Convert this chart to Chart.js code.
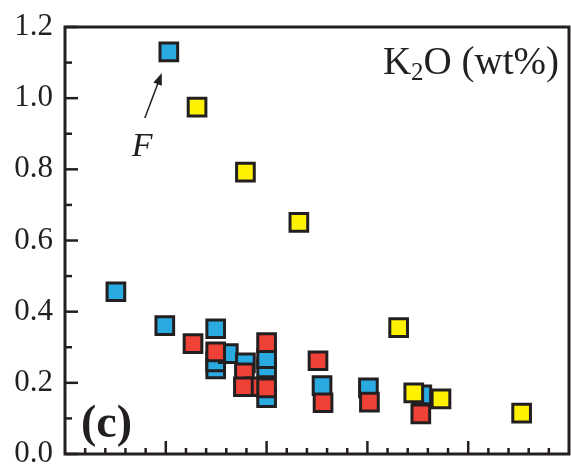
<!DOCTYPE html>
<html>
<head>
<meta charset="utf-8">
<script src="https://cdn.jsdelivr.net/npm/chart.js@4.4.1/dist/chart.umd.min.js"></script>
<style>
    html, body { margin: 0; padding: 0; background: #fff; overflow: hidden; }
    canvas { display: block; }
</style>
</head>
<body>
<canvas id="k2o" width="571" height="464"></canvas>
<script>
// K2O (wt%) values per sample group
const blueX = [10.3, 5.05, 9.9, 14.95, 14.95, 14.95, 16.2, 17.9, 20.0, 20.0, 20.0, 25.5, 30.1, 35.4];
const blueY = [1.13, 0.456, 0.361, 0.352, 0.239, 0.259, 0.282, 0.256, 0.242, 0.268, 0.158, 0.192, 0.186, 0.166];

const redX = [12.7, 14.95, 17.8, 18.8, 17.7, 20.0, 20.0, 25.1, 25.6, 30.2, 35.3];
const redY = [0.31, 0.287, 0.228, 0.189, 0.189, 0.313, 0.186, 0.262, 0.144, 0.146, 0.113];

const yellowX = [13.1, 17.9, 23.2, 33.1, 34.6, 37.3, 45.3];
const yellowY = [0.975, 0.792, 0.651, 0.355, 0.172, 0.155, 0.115];

const yTicks = [0, 0.2, 0.4, 0.6, 0.8, 1.0, 1.2];
const yMinor = [0.1, 0.3, 0.5, 0.7, 0.9, 1.1];
const xMajor = [10, 20, 30, 40];
const xMinor = [2, 4, 6, 8, 12, 14, 16, 18, 22, 24, 26, 28, 32, 34, 36, 38, 42, 44, 46, 48];

const INK = '#231f20';
const SERIF = '"Liberation Serif", "Times New Roman", serif';

function toPoints(xs, ys) {
    return xs.map(function(x, i) { return { x: x, y: ys[i] }; });
}

function makeSet(label, xs, ys, color, order) {
    return {
        label: label,
        data: toPoints(xs, ys),
        backgroundColor: color,
        borderColor: INK,
        borderWidth: 3,
        pointStyle: 'rect',
        pointRadius: 12.5,
        pointHoverRadius: 12.5,
        order: order
    };
}

// frame and inward tick marks
const framePlugin = {
    id: 'frame',
    beforeDatasetsDraw: function(chart) {
        const ctx = chart.ctx;
        const a = chart.chartArea;
        const xs = chart.scales.x;
        const ys = chart.scales.y;
        ctx.save();
        ctx.strokeStyle = INK;
        ctx.lineWidth = 2.5;
        yTicks.forEach(function(v) {
            const py = ys.getPixelForValue(v);
            ctx.beginPath(); ctx.moveTo(a.left, py); ctx.lineTo(a.left + 13, py); ctx.stroke();
        });
        yMinor.forEach(function(v) {
            const py = ys.getPixelForValue(v);
            ctx.beginPath(); ctx.moveTo(a.left, py); ctx.lineTo(a.left + 7, py); ctx.stroke();
        });
        xMajor.forEach(function(v) {
            const px = xs.getPixelForValue(v);
            ctx.beginPath(); ctx.moveTo(px, a.bottom); ctx.lineTo(px, a.bottom - 13); ctx.stroke();
        });
        xMinor.forEach(function(v) {
            const px = xs.getPixelForValue(v);
            ctx.beginPath(); ctx.moveTo(px, a.bottom); ctx.lineTo(px, a.bottom - 6); ctx.stroke();
        });
        ctx.lineWidth = 3;
        ctx.strokeRect(a.left, a.top, a.right - a.left, a.bottom - a.top);
        ctx.restore();
    },
    afterDraw: function(chart) {
        const ctx = chart.ctx;
        const a = chart.chartArea;
        ctx.save();
        ctx.fillStyle = INK;
        ctx.strokeStyle = INK;
        ctx.textBaseline = 'alphabetic';

        // K2O (wt%) title, right aligned
        const big = '39px ' + SERIF;
        const sub = '25px ' + SERIF;
        ctx.font = big;
        const wK = ctx.measureText('K').width;
        const wRest = ctx.measureText('O (wt%)').width;
        ctx.font = sub;
        const w2 = ctx.measureText('2').width;
        let tx = a.right - 10 - (wK + w2 + wRest);
        const ty = a.top + 47;
        ctx.font = big;
        ctx.fillText('K', tx, ty);
        tx += wK;
        ctx.font = sub;
        ctx.fillText('2', tx, ty + 6);
        tx += w2;
        ctx.font = big;
        ctx.fillText('O (wt%)', tx, ty);

        // panel letter
        ctx.font = 'bold 46px ' + SERIF;
        ctx.fillText('(c)', a.left + 16, a.bottom - 17);

        // F label with arrow pointing at the outlier
        const px = chart.scales.x.getPixelForValue(blueX[0]);
        const py = chart.scales.y.getPixelForValue(blueY[0]);
        ctx.font = 'italic 34px ' + SERIF;
        ctx.fillText('F', px - 37, py + 104);

        const x0 = px - 24, y0 = py + 66;
        const x1 = px - 7, y1 = py + 21;
        const ang = Math.atan2(y1 - y0, x1 - x0);
        ctx.lineWidth = 1.5;
        ctx.beginPath(); ctx.moveTo(x0, y0); ctx.lineTo(x1 - 8 * Math.cos(ang), y1 - 8 * Math.sin(ang)); ctx.stroke();
        ctx.beginPath();
        ctx.moveTo(x1, y1);
        ctx.lineTo(x1 - 12 * Math.cos(ang) + 4.5 * Math.sin(ang), y1 - 12 * Math.sin(ang) - 4.5 * Math.cos(ang));
        ctx.lineTo(x1 - 12 * Math.cos(ang) - 4.5 * Math.sin(ang), y1 - 12 * Math.sin(ang) + 4.5 * Math.cos(ang));
        ctx.closePath();
        ctx.fill();
        ctx.restore();
    }
};

new Chart(document.getElementById('k2o'), {
    type: 'scatter',
    data: {
        datasets: [
            makeSet('group 1', blueX, blueY, '#29abe2', 3),
            makeSet('group 2', redX, redY, '#ef4136', 2),
            makeSet('group 3', yellowX, yellowY, '#fff200', 1)
        ]
    },
    options: {
        responsive: false,
        animation: false,
        events: [],
        layout: { autoPadding: false, padding: { top: 27, right: 2, bottom: 10, left: 0 } },
        plugins: {
            legend: { display: false },
            tooltip: { enabled: false }
        },
        scales: {
            x: {
                display: false,
                min: 0,
                max: 50
            },
            y: {
                min: 0,
                max: 1.2,
                afterFit: function(scale) {
                    scale.width = 65;
                    scale.paddingTop = 0;
                    scale.paddingBottom = 0;
                },
                afterBuildTicks: function(scale) {
                    scale.ticks = yTicks.map(function(v) { return { value: v }; });
                },
                grid: { display: false, drawTicks: false },
                border: { display: false },
                ticks: {
                    padding: 12,
                    color: INK,
                    font: { family: SERIF, size: 31 },
                    callback: function(v) { return Number(v).toFixed(1); }
                }
            }
        }
    },
    plugins: [framePlugin]
});
</script>
</body>
</html>
